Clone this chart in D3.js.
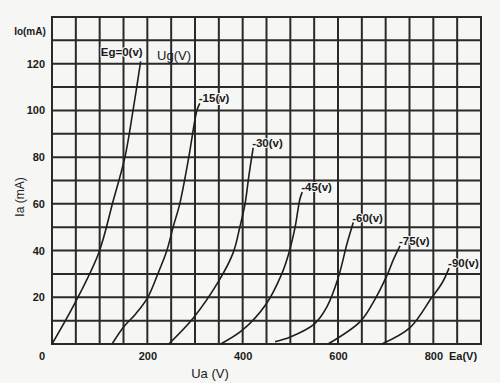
<!DOCTYPE html>
<html>
<head>
<meta charset="utf-8">
<script src="https://cdn.jsdelivr.net/npm/d3@7"></script>
<style>
  html, body { margin: 0; padding: 0; background: #f6f6f4; }
  svg { display: block; }
  text { font-family: "Liberation Sans", "DejaVu Sans", sans-serif; fill: #1a1a1a; }
</style>
</head>
<body>
<svg id="chart" width="500" height="383"></svg>
<script>
// ---- data ----
const seriesLabels = ["Eg=0(v)", "-15(v)", "-30(v)", "-45(v)", "-60(v)", "-75(v)", "-90(v)"];
const ua_0   = [0, 48, 98, 128, 153, 170, 186];
const ia_0   = [0, 17.5, 39, 61, 80, 100, 121];
const ua_15  = [126, 149, 176, 201, 222, 241, 254, 268, 287, 304, 310];
const ia_15  = [0, 7, 13, 20, 30, 40, 50, 60, 80, 100, 103];
const ua_30  = [245, 296, 350, 380, 394, 405, 413, 422];
const ia_30  = [0, 11, 27, 39, 50, 60, 72, 84];
const ua_45  = [354, 400, 449, 482, 497, 510, 520, 525];
const ia_45  = [0, 6, 17, 30, 39, 50, 62, 65];
const ua_60  = [468, 500, 550, 577, 600, 619, 632];
const ia_60  = [1, 3, 8.5, 16, 28, 43, 52];
const ua_75  = [579, 646, 673, 703, 716, 730];
const ia_75  = [0, 9.5, 17.5, 29.5, 36, 42];
const ua_90  = [692, 751, 797, 818, 833];
const ia_90  = [0, 7, 20, 26, 32.5];
const xTickLabels = [200, 400, 600, 800];
const yTickLabels = [20, 40, 60, 80, 100, 120];
const xDomain = [0, 900];
const yDomain = [0, 140];
const xGridStep = 50;
const yGridStep = 10;

const seriesUa = [ua_0, ua_15, ua_30, ua_45, ua_60, ua_75, ua_90];
const seriesIa = [ia_0, ia_15, ia_30, ia_45, ia_60, ia_75, ia_90];
const series = seriesLabels.map((name, i) => ({
  name,
  pts: seriesUa[i].map((u, j) => [u, seriesIa[i][j]])
}));

// ---- layout ----
const svg = d3.select("#chart");
const x = d3.scaleLinear().domain(xDomain).range([52, 481]);
const y = d3.scaleLinear().domain(yDomain).range([344, 17]);

// grid
const g = svg.append("g");
g.selectAll("line.v").data(d3.range(xDomain[0], xDomain[1] + 1, xGridStep)).join("line")
  .attr("x1", d => x(d)).attr("x2", d => x(d))
  .attr("y1", y(yDomain[0])).attr("y2", y(yDomain[1]))
  .attr("stroke", "#2a2a2a").attr("stroke-width", 2);
g.selectAll("line.h").data(d3.range(yDomain[0], yDomain[1] + 1, yGridStep)).join("line")
  .attr("x1", x(xDomain[0]) - 1).attr("x2", x(xDomain[1]) + 1)
  .attr("y1", d => y(d)).attr("y2", d => y(d))
  .attr("stroke", "#2a2a2a").attr("stroke-width", 2);

// axes tick labels
const yAxis = d3.axisLeft(y).tickValues(yTickLabels).tickSize(0).tickPadding(6);
svg.append("g").attr("transform", `translate(${x(0)},0)`).call(yAxis)
  .call(s => s.select(".domain").remove())
  .selectAll("text").style("font-size", "11px").style("font-weight", "bold")
  .attr("fill", "#222").attr("dx", "-1");

const xAxis = d3.axisBottom(x).tickValues(xTickLabels).tickSize(0).tickPadding(8);
svg.append("g").attr("transform", `translate(0,${y(0)})`).call(xAxis)
  .call(s => s.select(".domain").remove())
  .selectAll("text").style("font-size", "11px").style("font-weight", "bold").attr("fill", "#222");

svg.append("text").attr("x", x(0) - 10).attr("y", y(0) + 16)
  .attr("text-anchor", "middle").style("font-size", "11px").style("font-weight", "bold").text("0");
svg.append("text").attr("x", 463).attr("y", y(0) + 16)
  .attr("text-anchor", "middle").style("font-size", "11px").style("font-weight", "bold").text("Ea(V)");

// axis titles
svg.append("text").attr("x", 30).attr("y", 35).attr("text-anchor", "middle")
  .style("font-size", "10px").style("font-weight", "bold").text("Io(mA)");
svg.append("text").attr("transform", "translate(24,197) rotate(-90)").attr("text-anchor", "middle")
  .style("font-size", "12px").text("Ia (mA)");
svg.append("text").attr("x", 210).attr("y", 378).attr("text-anchor", "middle")
  .style("font-size", "13px").text("Ua (V)");
svg.append("text").attr("x", 174).attr("y", 60).attr("text-anchor", "middle")
  .style("font-size", "13px").text("Ug(V)");

// curves
const line = d3.line().x(d => x(d[0])).y(d => y(d[1])).curve(d3.curveCatmullRom.alpha(0.5));
svg.append("g").selectAll("path").data(series).join("path")
  .attr("d", d => line(d.pts))
  .attr("fill", "none").attr("stroke", "#1e1e1e").attr("stroke-width", 1.6);

// curve labels
svg.append("g").selectAll("text").data(series).join("text")
  .attr("x", (d, i) => {
    const e = d.pts[d.pts.length - 1];
    return i === 0 ? x(e[0]) + 2 : x(e[0]) - 1;
  })
  .attr("y", (d, i) => {
    const e = d.pts[d.pts.length - 1];
    return i === 0 ? y(e[1]) - 5 : y(e[1]) - 1;
  })
  .attr("text-anchor", (d, i) => i === 0 ? "end" : "start")
  .style("font-size", "11.5px").style("font-weight", "bold")
  .style("paint-order", "stroke").attr("stroke", "#f6f6f4").attr("stroke-width", 2)
  .text(d => d.name);
</script>
</body>
</html>
